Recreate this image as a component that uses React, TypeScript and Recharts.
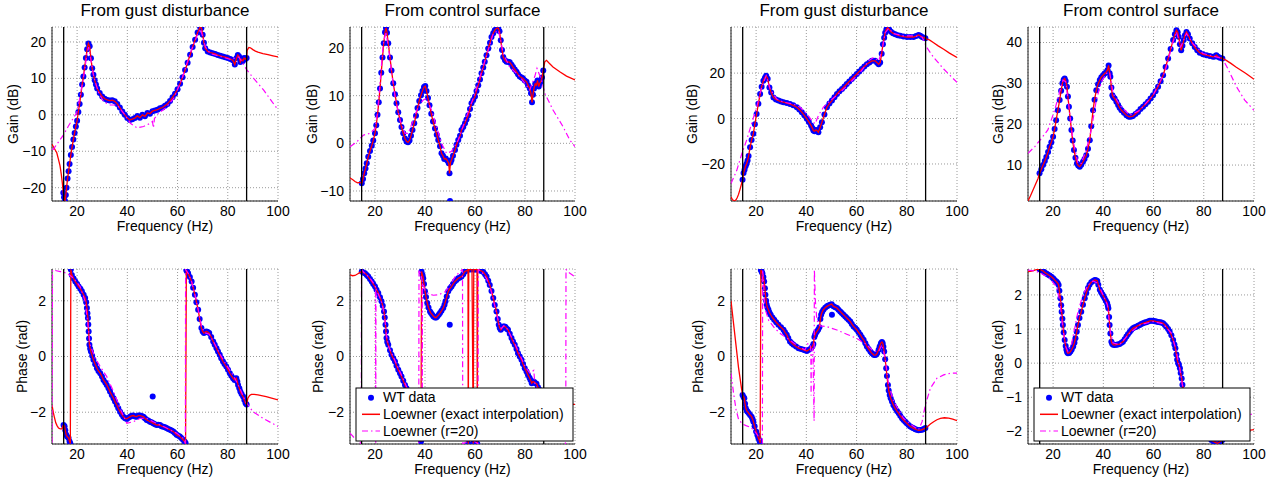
import React from 'react';
import { LineChart, Line, XAxis, YAxis, CartesianGrid, ReferenceLine } from 'recharts';

type Pt = [number, number];

// ---------- shared axis values ----------
const freqTicks = [20, 40, 60, 80, 100];
const bandEdges = [14.65, 87.5];
const legendLabels = ['WT data', 'Loewner (exact interpolation)', 'Loewner (r=20)'];
const titles = ['From gust disturbance', 'From control surface'];
const gainLabel = 'Gain (dB)';
const phaseLabel = 'Phase (rad)';
const freqLabel = 'Frequency (Hz)';

// ---------- Panel 1: gain, gust, left model ----------
const g1Ticks = [-20, -10, 0, 10, 20];
const g1Wt: Pt[] = [[14.5,-21.4],[14.8,-22.6],[15.2,-23.65],[15.5,-22.0],[15.8,-20.0],[16.2,-17.5],[16.6,-15.5],[17.0,-13.5],[17.5,-11.0],[18.0,-8.8],[18.5,-6.8],[19.0,-5.0],[19.5,-3.2],[20.0,-1.6],[20.5,0.8],[21.0,3.0],[21.5,5.5],[22.0,8.3],[22.5,10.5],[23.0,13.0],[23.5,15.6],[24.0,18.0],[24.5,19.6],[25.0,18.8],[25.5,15.5],[26.0,12.8],[26.5,11.0],[27.0,9.5],[27.5,8.3],[28.0,7.2],[29.0,6.0],[30.0,5.0],[31.0,4.4],[32.0,4.1],[33.0,3.9],[34.0,4.0],[35.0,3.7],[36.0,3.0],[37.0,2.0],[38.0,0.9],[39.0,0.0],[40.0,-0.9],[41.0,-1.4],[42.0,-1.2],[43.0,-0.9],[44.0,-0.3],[45.0,-0.8],[46.0,0.0],[47.0,-0.4],[48.0,0.5],[49.0,0.3],[50.0,1.0],[51.0,1.2],[52.0,1.4],[53.0,1.8],[54.0,2.0],[55.0,2.5],[56.0,3.0],[57.0,3.8],[58.0,4.8],[59.0,5.8],[60.0,7.0],[61.0,8.5],[62.0,10.3],[63.0,12.3],[64.0,14.3],[65.0,16.5],[66.0,18.6],[67.0,20.6],[68.0,22.6],[69.0,24.1],[69.5,23.8],[70.0,22.0],[70.5,19.8],[71.0,18.3],[72.0,17.4],[73.0,17.1],[74.0,16.9],[75.0,16.7],[76.0,16.4],[77.0,16.2],[78.0,16.0],[79.0,15.8],[80.0,15.6],[81.0,15.3],[82.0,15.0],[82.8,13.8],[83.5,15.6],[84.0,16.4],[84.5,16.0],[85.0,14.5],[85.5,15.2],[86.0,14.8],[86.5,15.6],[87.0,15.3],[87.5,15.6]];
const g1Out: Pt[] = [];
const g1RedL: Pt[] = [[10,-8.1],[10.5,-8.7],[11,-9.3],[11.9,-10.4],[12.5,-12.0],[13.2,-14.0],[13.7,-16.3],[14.1,-18.6],[14.3,-20.0]];
const g1RedR: Pt[] = [[87.7,17.7],[88.4,18.5],[89,18.4],[90,17.9],[91,17.5],[92,17.2],[94,16.8],[96,16.5],[98,16.2],[100,15.9]];
const g1Mag: Pt[] = [[10,-9.5],[10.5,-9.5],[12,-8.0],[14.6,-5.5],[16.6,-3.0],[18.6,-0.8],[19.8,0.5],[20.6,3.0],[22.6,10.5],[24.0,17.0],[24.6,18.6],[25.5,15.0],[26.6,10.5],[28.6,6.0],[30.6,3.6],[33.2,2.7],[35.9,2.7],[38.5,0.5],[41.2,-2.3],[43.9,-3.6],[46.5,-3.2],[49.2,-2.3],[50.0,-1.8],[50.4,-3.6],[50.8,-1.0],[52.5,0.5],[55.1,1.8],[58.5,4.5],[61.8,10.0],[65,16.8],[67.8,21.8],[69.1,23.6],[70,21.5],[71.1,18.6],[73.1,16.8],[77.1,16.0],[81.1,15.2],[84.4,15.9],[87.6,12.3],[90.3,10.0],[94.3,6.8],[97.6,3.6],[100,1.4]];

// ---------- Panel 2: gain, control surface, left model ----------
const g2Ticks = [-10, 0, 10, 20];
const g2Wt: Pt[] = [[14.7,-8.4],[15.2,-7.5],[15.7,-6.3],[16.2,-5.3],[16.7,-4.2],[17.3,-2.8],[18.0,-1.6],[18.7,-0.5],[19.3,0.6],[20.0,2.1],[20.5,3.8],[21.0,6.0],[21.5,8.6],[22.0,11.5],[22.5,14.8],[23.0,18.0],[23.5,21.0],[24.0,23.3],[24.4,24.2],[24.8,23.2],[25.3,21.0],[26.0,18.0],[26.6,15.3],[27.3,12.6],[28.0,10.3],[28.6,8.4],[29.3,6.5],[30.0,4.9],[30.6,3.4],[31.3,2.1],[32.0,1.0],[32.6,0.4],[33.2,0.2],[33.8,0.6],[34.4,1.6],[35.0,2.8],[35.7,4.2],[36.4,5.8],[37.0,7.4],[37.7,8.9],[38.4,10.1],[39.0,11.0],[39.6,11.8],[40.1,12.0],[40.6,11.0],[41.2,9.5],[41.8,8.0],[42.5,6.2],[43.2,4.6],[44.0,3.1],[44.7,1.8],[45.3,0.7],[46.0,-0.6],[46.6,-2.1],[47.2,-2.6],[47.7,-3.3],[48.3,-3.2],[48.9,-3.6],[49.5,-4.2],[49.8,-6.3],[50.2,-4.0],[50.6,-3.5],[51.2,-2.6],[52.0,-1.4],[52.6,-0.3],[53.3,0.7],[54.0,1.6],[54.6,2.8],[55.3,3.4],[56.0,4.2],[56.6,5.0],[57.3,5.9],[58.0,7.2],[58.6,8.4],[59.3,9.1],[60.0,9.8],[60.6,11.0],[61.3,12.2],[62.0,13.4],[62.6,14.7],[63.3,15.9],[63.9,17.1],[64.6,18.5],[65.3,19.9],[66.0,21.1],[66.6,22.3],[67.3,23.1],[67.9,23.7],[68.6,24.1],[69.3,24.2],[69.8,23.5],[70.3,21.6],[70.8,19.6],[71.3,18.1],[72.0,17.4],[72.6,17.1],[73.3,17.1],[73.9,17.0],[74.6,16.5],[75.2,16.0],[75.9,15.5],[76.6,15.0],[77.2,14.5],[77.9,14.0],[78.6,13.8],[79.2,13.6],[79.9,13.2],[80.6,12.9],[81.2,12.2],[81.9,11.5],[82.4,10.5],[82.8,8.6],[83.2,10.2],[83.6,11.5],[84.1,12.5],[84.6,12.2],[85.0,13.2],[85.5,11.9],[85.9,12.6],[86.3,12.9],[86.8,13.8],[87.3,15.3]];
const g2Out: Pt[] = [[50.0,-12.1]];
const g2RedL: Pt[] = [[10,-7.3],[11,-7.6],[12,-8.0],[13,-8.3],[14,-8.2]];
const g2RedR: Pt[] = [[87.9,17.1],[88.6,17.4],[89.5,16.9],[91.2,16.0],[93.9,15.0],[96.6,14.1],[100,13.3]];
const g2Mag: Pt[] = [[10,-0.7],[12.7,0.3],[15.3,1.7],[18,2.1],[20,3.1],[21,6.5],[22,12.6],[23.3,20.9],[24.4,23.4],[25.7,18.8],[27,13.5],[28,9.8],[30,4.9],[32,2.1],[33.3,2.1],[35.3,4.9],[37.3,7.7],[39.3,9.1],[40.6,9.4],[42.6,7.0],[44.6,3.5],[46.6,0.0],[48.6,-2.1],[50.6,-1.7],[53.3,0.7],[56.6,5.6],[60,10.5],[64,17.4],[67.3,23.0],[69.3,23.7],[70.3,21.5],[71.3,18.8],[73.9,16.0],[77.9,14.0],[81.9,11.2],[83.9,14.0],[84.8,15.7],[86.6,13.3],[87.9,10.5],[91.2,7.0],[95.2,3.5],[97.9,0.7],[100,-0.7]];

// ---------- Panel 3: gain, gust, right model ----------
const g3Ticks = [-20, 0, 20];
const g3Wt: Pt[] = [[14.6,-27.0],[15.0,-24.0],[15.4,-22.5],[15.8,-21.0],[16.2,-19.9],[16.6,-18.5],[17.0,-16.5],[17.6,-12.6],[18.2,-9.5],[18.9,-6.7],[19.5,-2.5],[20.2,2.0],[20.9,6.5],[21.6,10.8],[22.2,14.0],[22.9,16.6],[23.5,18.0],[24.0,18.8],[24.6,17.5],[25.3,13.7],[26.0,11.5],[26.9,9.3],[27.9,8.4],[28.9,7.9],[29.9,7.5],[30.9,7.2],[32.2,6.8],[33.5,6.4],[34.8,5.8],[36.2,5.0],[37.2,4.0],[38.2,2.8],[39.2,1.4],[40.2,-0.1],[41.0,-1.5],[41.9,-3.1],[42.4,-4.2],[42.8,-5.3],[43.3,-5.6],[43.8,-5.0],[44.2,-5.3],[44.8,-6.0],[45.5,-3.8],[46.2,-1.6],[47.2,1.8],[48.2,5.0],[49.2,6.6],[50.2,7.9],[51.2,9.4],[52.2,10.8],[53.2,12.0],[54.2,13.0],[55.2,14.1],[56.1,15.2],[57.1,16.3],[58.1,17.4],[59.1,18.5],[60.1,19.6],[61.1,20.7],[62.1,21.8],[63.1,22.9],[64.1,23.9],[65.1,24.7],[66.1,25.4],[67.4,25.4],[68.2,24.6],[68.8,23.9],[69.4,24.7],[70.0,28.5],[70.5,32.7],[71.0,35.6],[71.4,37.8],[71.9,39.3],[72.4,40.0],[73.0,39.2],[73.7,38.2],[74.5,37.6],[75.4,37.1],[76.4,36.7],[77.4,36.4],[78.7,36.1],[80.1,35.9],[81.4,35.9],[82.7,35.9],[83.7,36.3],[84.7,36.8],[85.4,36.4],[86.1,35.9],[86.8,35.6],[87.4,35.3]];
const g3Out: Pt[] = [];
const g3RedL: Pt[] = [[10,-34.5],[10.5,-35.6],[11,-36.1],[11.5,-36.2],[12,-35.8],[12.5,-34.8],[13,-33.4],[13.5,-31.5],[14,-29.5],[14.3,-28.2]];
const g3RedR: Pt[] = [[88,35.0],[89,34.6],[90.7,33.4],[92.5,32.0],[94.7,30.5],[97,28.8],[100,26.9]];
const g3Mag: Pt[] = [[10,-28.6],[12.3,-22.8],[14.3,-15.5],[16.2,-9.6],[18.2,-2.3],[20.2,5.0],[22.2,13.7],[24.0,18.8],[25.6,13.0],[28.2,8.6],[30.9,7.2],[34.9,6.4],[37.5,5.0],[40.2,2.0],[42.2,-0.9],[43.5,-2.3],[44.8,1.3],[46.8,5.0],[49.5,7.9],[53.5,11.5],[57.5,15.9],[61.5,20.3],[64.8,25.4],[66.8,26.9],[68.8,25.4],[70.1,29.8],[71.4,37.8],[72.8,39.7],[74.8,37.4],[78.7,36.4],[82.7,36.4],[86.1,35.9],[88,31.2],[90.7,26.9],[94.7,21.8],[100,15.9]];

// ---------- Panel 4: gain, control surface, right model ----------
const g4Ticks = [10, 20, 30, 40];
const g4Wt: Pt[] = [[14.6,8.0],[15.3,9.0],[16.0,10.0],[16.7,11.0],[17.3,12.0],[18.0,13.2],[18.6,14.5],[19.3,15.6],[20.0,16.9],[20.6,18.8],[21.2,21.0],[21.9,23.4],[22.6,25.9],[23.2,28.2],[23.7,30.0],[24.2,30.9],[24.6,31.2],[25.0,30.6],[25.5,29.2],[25.9,26.8],[26.3,24.3],[26.8,21.4],[27.3,18.6],[27.8,16.0],[28.3,13.7],[28.9,11.8],[29.5,10.4],[30.0,9.9],[30.6,9.6],[31.2,10.1],[31.9,10.8],[32.5,11.5],[33.2,12.4],[33.9,14.0],[34.6,16.1],[35.2,19.5],[35.9,23.4],[36.5,26.0],[37.2,28.3],[37.9,29.8],[38.6,30.8],[39.2,31.5],[39.9,32.0],[40.5,32.4],[41.2,32.8],[41.7,33.3],[42.1,34.4],[42.5,32.5],[42.8,31.6],[43.2,29.0],[43.6,27.1],[44.0,26.6],[44.5,26.3],[45.2,25.5],[45.9,24.7],[46.5,24.0],[47.2,23.4],[48.2,22.8],[49.2,22.2],[50.0,21.9],[50.5,21.8],[51.2,21.9],[51.8,22.0],[52.8,22.5],[53.8,23.0],[54.8,23.7],[55.8,24.3],[56.8,24.9],[57.8,25.5],[58.8,26.3],[59.8,27.1],[60.8,28.1],[61.8,29.2],[62.8,30.5],[63.8,32.0],[64.8,34.0],[65.8,36.1],[66.8,38.4],[67.8,40.6],[68.5,42.0],[69.1,43.0],[69.6,42.5],[70.0,41.4],[70.5,39.6],[71.0,38.1],[71.5,39.2],[72.0,40.6],[72.5,41.8],[73.1,42.6],[73.7,42.0],[74.4,41.0],[75.4,39.8],[76.4,38.9],[77.4,38.1],[78.4,37.5],[79.7,37.1],[81.1,36.9],[82.4,36.7],[83.7,36.5],[84.4,36.6],[85.0,36.9],[85.7,36.5],[86.4,36.3],[87.4,36.1]];
const g4Out: Pt[] = [];
const g4RedL: Pt[] = [[10,1.2],[11,2.5],[12,3.9],[13,5.3],[14,6.7]];
const g4RedR: Pt[] = [[88.8,35.7],[90.8,34.9],[92.8,34.0],[94.8,33.2],[96.8,32.4],[100,31.0]];
const g4Mag: Pt[] = [[10,12.9],[12.7,14.5],[15.3,16.5],[17.9,18.6],[20.6,23.4],[22.6,27.9],[23.9,30.8],[25.0,30.4],[26.3,24.3],[27.9,16.1],[29.9,10.4],[31.2,10.4],[33.2,13.7],[35.2,18.6],[37.2,25.9],[39.2,30.4],[41.2,32.4],[42.5,32.8],[43.9,27.5],[46.5,24.7],[50.5,22.2],[54.5,23.4],[59.8,27.1],[64.5,32.8],[67.8,40.2],[69.1,42.6],[70.8,38.9],[73.1,42.2],[75.7,39.7],[79.7,37.3],[83.7,36.7],[87.4,36.1],[89.6,33.6],[93,29.2],[96.3,25.9],[100,23.4]];

// ---------- Panel 5: phase, gust, left model ----------
const p5Ticks = [-2, 0, 2];
const p5Wt: Pt[] = [[14.6,-2.46],[15.0,-2.5],[15.3,-2.65],[15.6,-2.8],[16.0,-2.87],[16.6,-2.93],[17.0,-3.05],[17.3,-3.12],[17.5,3.12],[17.9,2.93],[18.6,2.8],[19.3,2.69],[20.0,2.6],[20.6,2.51],[21.3,2.43],[21.9,2.34],[22.6,2.22],[23.2,2.1],[23.6,1.95],[23.9,1.74],[24.1,1.55],[24.3,1.38],[24.45,1.15],[24.6,0.9],[24.75,0.65],[24.9,0.42],[25.2,0.28],[25.5,0.18],[26.0,0.03],[26.5,-0.12],[27.2,-0.28],[27.9,-0.42],[28.5,-0.52],[29.2,-0.6],[29.9,-0.72],[30.5,-0.84],[31.2,-0.93],[31.8,-1.02],[32.5,-1.14],[33.1,-1.26],[33.8,-1.38],[34.5,-1.5],[35.1,-1.62],[35.8,-1.74],[36.4,-1.86],[37.1,-1.98],[37.8,-2.08],[38.4,-2.16],[39.1,-2.22],[39.8,-2.24],[40.4,-2.2],[41.1,-2.16],[41.7,-2.13],[42.4,-2.12],[43.1,-2.15],[43.7,-2.16],[44.4,-2.12],[45.1,-2.12],[45.7,-2.14],[46.4,-2.16],[47.0,-2.22],[47.7,-2.28],[48.3,-2.3],[49.0,-2.34],[49.6,-2.36],[50.3,-2.4],[51.0,-2.43],[51.7,-2.46],[52.3,-2.45],[53.0,-2.46],[53.6,-2.5],[54.3,-2.52],[55.0,-2.54],[55.6,-2.57],[56.3,-2.6],[57.0,-2.63],[57.6,-2.66],[58.3,-2.69],[58.9,-2.75],[59.6,-2.81],[60.2,-2.84],[60.9,-2.87],[61.5,-2.93],[62.2,-2.99],[62.8,-3.05],[63.2,-3.11],[63.5,3.1],[63.8,3.05],[64.2,2.99],[64.9,2.85],[65.6,2.69],[66.2,2.47],[66.9,2.22],[67.5,1.95],[68.2,1.68],[68.8,1.35],[69.5,1.02],[70.0,0.9],[70.5,0.84],[71.0,0.88],[71.5,0.9],[72.0,0.88],[72.6,0.84],[73.4,0.7],[74.2,0.54],[74.8,0.42],[75.5,0.3],[76.1,0.18],[76.8,0.06],[77.4,-0.06],[78.1,-0.18],[78.7,-0.27],[79.4,-0.36],[80.1,-0.48],[80.8,-0.6],[81.4,-0.69],[82.1,-0.78],[82.7,-0.84],[83.1,-0.8],[83.4,-0.78],[83.8,-0.9],[84.1,-1.02],[84.6,-1.14],[85.0,-1.26],[85.5,-1.35],[86.1,-1.44],[86.6,-1.56],[87.1,-1.68],[87.5,-1.72]];
const p5Out: Pt[] = [[50.1,-1.44]];
const p5RedL: Pt[] = [[10,-1.74],[10.5,-2.0],[11,-2.2],[11.5,-2.38],[12,-2.48],[12.6,-2.57],[13.3,-2.6],[14,-2.6],[14.3,-2.5]];
const p5RedR: Pt[] = [[88,-1.5],[88.7,-1.4],[89.4,-1.36],[90.5,-1.36],[92,-1.38],[95.3,-1.44],[100,-1.56]];
const p5Mag: Pt[] = [[10,-3.1],[10.2,3.1],[10.7,3.1],[13.3,3.05],[16,2.99],[18.6,2.81],[21.2,2.51],[23.2,1.98],[24.3,1.14],[25.2,0.42],[27.2,-0.06],[29.2,-0.36],[31.8,-0.72],[34.5,-1.26],[37.1,-1.86],[39.8,-2.4],[42.4,-2.34],[45.1,-2.22],[47.7,-2.22],[50.3,-2.34],[53,-2.46],[55.6,-2.57],[59.6,-2.75],[62.2,-2.93],[63.1,-3.12],[63.2,3.12],[64.2,2.99],[65.6,2.69],[67,2.2],[68.3,1.65],[69.6,1.05],[71,0.85],[72.6,0.8],[74.5,0.5],[76.8,0.1],[79.4,-0.3],[82.1,-0.66],[84.8,-1.14],[87.1,-1.62],[90,-1.98],[94,-2.22],[100,-2.51]];

// ---------- Panel 6: phase, control surface, left model ----------
const p6Ticks = [-2, 0, 2];
const p6Wt: Pt[] = [[14.7,3.05],[15.3,3.02],[16.0,2.99],[16.7,2.93],[17.3,2.87],[18.0,2.78],[18.7,2.69],[19.3,2.6],[20.0,2.51],[20.6,2.4],[21.3,2.28],[22.0,2.13],[22.6,1.98],[23.1,1.82],[23.6,1.62],[23.9,1.4],[24.2,1.14],[24.4,0.9],[24.6,0.66],[24.9,0.52],[25.3,0.42],[26.0,0.22],[26.6,0.06],[27.3,-0.06],[28.0,-0.18],[28.6,-0.33],[29.3,-0.48],[30.0,-0.6],[30.6,-0.72],[31.3,-0.87],[32.0,-1.02],[32.6,-1.14],[33.3,-1.26],[34.0,-1.44],[34.6,-1.62],[35.3,-1.86],[36.0,-2.1],[36.6,-2.33],[37.3,-2.57],[37.9,-2.82],[38.4,-3.05],[38.6,3.05],[39.0,2.93],[39.3,2.81],[39.6,2.6],[40.0,2.34],[40.4,2.14],[40.9,1.92],[41.4,1.76],[42.0,1.62],[42.4,1.56],[42.9,1.5],[43.4,1.44],[44.0,1.4],[44.5,1.4],[44.9,1.44],[45.5,1.5],[46.0,1.56],[46.6,1.64],[47.3,1.74],[47.8,1.86],[48.2,1.98],[48.7,2.15],[49.3,2.34],[50.0,2.45],[50.6,2.51],[51.2,2.6],[51.9,2.69],[52.6,2.75],[53.3,2.81],[54.0,2.84],[54.6,2.87],[55.3,2.95],[55.9,3.05],[56.6,3.08],[57.2,3.12],[57.3,-3.13],[57.5,3.13],[58.2,3.12],[58.8,3.13],[59.3,-3.12],[59.5,3.12],[60.2,3.12],[60.8,3.13],[60.9,-3.13],[61.1,3.12],[61.5,3.11],[62.0,3.09],[62.6,3.07],[63.3,3.03],[64.0,2.95],[64.6,2.87],[65.3,2.72],[65.9,2.57],[66.6,2.35],[67.3,2.1],[67.9,1.85],[68.6,1.62],[69.1,1.35],[69.5,1.14],[69.9,1.02],[70.3,0.96],[70.8,1.02],[71.3,1.08],[71.8,1.08],[72.2,1.06],[72.7,1.0],[73.2,0.96],[73.9,0.82],[74.6,0.66],[75.2,0.54],[75.9,0.42],[76.6,0.27],[77.2,0.12],[77.9,0.0],[78.6,-0.12],[79.2,-0.27],[79.9,-0.42],[80.6,-0.54],[81.2,-0.66],[81.8,-0.76],[82.2,-0.84],[82.7,-0.96],[83.2,-0.9],[83.7,-0.92],[84.2,-0.96],[84.6,-0.98],[85.2,-1.1],[85.9,-1.2],[86.6,-1.32],[87.3,-1.45]];
const p6Out: Pt[] = [[49.9,1.14]];
const p6RedL: Pt[] = [[10,2.93],[11,2.9],[12,2.91],[13,2.96],[14,3.02]];
const p6RedR: Pt[] = [[88,-1.48],[90,-1.6],[93,-1.66],[96,-1.7],[100,-1.72]];
const p6Mag: Pt[] = [[10,-2.75],[11.5,-2.9],[13,-3.02],[14.5,-3.13],[14.6,3.13],[15.5,3.02],[17,2.9],[18.5,2.75],[19.5,2.62],[20.2,2.5],[20.3,-3.1],[20.4,2.42],[21,2.3],[22,2.1],[23,1.85],[24,1.3],[24.6,0.75],[25.5,0.35],[27,0.05],[28.5,-0.25],[30,-0.55],[32,-0.95],[34,-1.4],[35.5,-1.9],[36.5,-2.3],[37.2,-2.75],[37.5,-3.12],[37.6,3.12],[38.3,2.95],[38.8,2.75],[38.9,-3.0],[39.0,2.65],[40,2.38],[41.5,2.25],[43.3,2.2],[45.5,2.22],[48,2.32],[50,2.55],[52,2.86],[54,3.05],[55.0,3.13],[55.1,-3.13],[57,-3.05],[59,-3.0],[61.2,-3.13],[61.3,3.13],[62,3.08],[63,3.0],[64.6,2.8],[66,2.5],[67.3,2.05],[68.6,1.55],[69.8,1.1],[70.5,1.0],[71.5,1.1],[72.5,1.05],[74,0.8],[76,0.45],[78,0.05],[80,-0.35],[82,-0.6],[83.5,-0.5],[84,-1.0],[86,-1.3],[88,-1.6],[90,-2.0],[92,-2.4],[94,-2.8],[96.3,-3.13],[96.4,3.13],[97.2,3.04],[100,2.86]];

// ---------- Panel 7: phase, gust, right model ----------
const p7Ticks = [-2, 0, 2];
const p7Wt: Pt[] = [[14.6,-1.38],[15.0,-1.45],[15.3,-1.5],[15.6,-1.7],[15.9,-1.86],[16.3,-1.95],[16.6,-1.98],[17.1,-2.04],[17.6,-2.1],[18.2,-2.16],[18.6,-2.25],[18.9,-2.34],[19.4,-2.5],[20.0,-2.69],[20.5,-2.82],[20.9,-2.93],[21.3,-3.02],[21.6,-3.11],[21.9,3.11],[22.2,3.05],[22.5,2.99],[22.9,2.85],[23.2,2.69],[23.5,2.45],[23.7,2.22],[24.0,2.0],[24.2,1.86],[24.5,1.76],[24.9,1.68],[25.3,1.58],[25.8,1.5],[26.5,1.4],[27.2,1.32],[28.0,1.23],[28.9,1.14],[29.9,1.05],[30.9,0.96],[31.5,0.87],[32.2,0.78],[32.8,0.66],[33.5,0.54],[34.2,0.48],[34.9,0.42],[35.9,0.36],[36.9,0.3],[37.9,0.27],[38.9,0.24],[39.5,0.22],[40.2,0.2],[41.0,0.24],[41.9,0.3],[42.4,0.36],[42.8,0.45],[43.2,0.7],[43.5,0.78],[43.8,0.85],[44.2,0.9],[44.7,0.96],[45.2,1.05],[45.6,1.35],[45.9,1.5],[46.3,1.6],[46.8,1.68],[47.5,1.75],[48.2,1.8],[48.8,1.83],[49.5,1.86],[50.1,1.88],[50.8,1.8],[51.5,1.77],[52.2,1.74],[52.8,1.68],[53.5,1.62],[54.1,1.56],[54.8,1.5],[55.5,1.44],[56.1,1.38],[56.8,1.32],[57.5,1.26],[58.1,1.17],[58.8,1.08],[59.5,1.02],[60.1,0.96],[60.8,0.87],[61.5,0.78],[62.1,0.69],[62.8,0.6],[63.5,0.48],[64.1,0.36],[64.8,0.27],[65.5,0.18],[66.1,0.12],[66.8,0.06],[67.3,0.05],[67.7,0.06],[68.2,0.12],[68.8,0.24],[69.2,0.36],[69.7,0.48],[70.1,0.52],[70.4,0.48],[70.7,0.35],[71.0,0.18],[71.4,-0.1],[71.8,-0.42],[72.1,-0.7],[72.5,-1.02],[72.8,-1.22],[73.2,-1.38],[73.6,-1.5],[74.1,-1.62],[74.7,-1.75],[75.4,-1.86],[76.1,-1.96],[76.8,-2.04],[77.4,-2.13],[78.1,-2.22],[78.7,-2.28],[79.4,-2.34],[80.0,-2.4],[80.7,-2.46],[81.4,-2.51],[82.1,-2.55],[82.7,-2.58],[83.4,-2.61],[84.0,-2.63],[84.7,-2.65],[85.4,-2.64],[86.1,-2.63],[86.7,-2.6],[87.4,-2.57]];
const p7Out: Pt[] = [[50.2,1.5]];
const p7RedL: Pt[] = [[10,2.0],[11,1.2],[12,0.4],[13,-0.4],[14.4,-1.28]];
const p7RedR: Pt[] = [[88.2,-2.52],[89.4,-2.42],[90.7,-2.34],[92,-2.27],[93.4,-2.22],[95,-2.2],[96.7,-2.21],[98.3,-2.25],[100,-2.3]];
const p7Mag: Pt[] = [[10,-0.6],[11,-1.3],[12,-1.9],[13,-2.25],[14.5,-2.42],[16,-2.48],[18,-2.55],[20,-2.75],[21.5,-2.95],[22.5,-3.12],[22.6,3.12],[23.0,2.6],[23.5,1.73],[25,1.3],[27.5,1.0],[30,0.8],[34.2,0.54],[37,0.35],[39.5,0.24],[40.5,0.45],[41.5,0.45],[41.8,0.2],[41.9,-1.4],[42.0,0.0],[42.6,0.3],[43.1,-2.32],[43.2,3.12],[43.6,2.0],[44.2,1.3],[45.5,1.1],[48.2,1.07],[52.2,0.95],[56.1,0.8],[60.1,0.65],[64.1,0.42],[66.8,0.18],[68.8,0.18],[70.1,0.42],[71.4,-0.06],[72.8,-1.02],[74.8,-1.62],[78.7,-2.22],[82.7,-2.51],[84.7,-2.63],[86.1,-2.34],[87.4,-1.74],[89.4,-1.14],[92,-0.78],[94.7,-0.66],[97.4,-0.6],[100,-0.6]];

// ---------- Panel 8: phase, control surface, right model ----------
const p8Ticks = [-2, -1, 0, 1, 2];
const p8Wt: Pt[] = [[14.6,2.75],[15.3,2.73],[16.0,2.7],[16.6,2.66],[17.3,2.63],[17.9,2.6],[18.6,2.57],[19.3,2.53],[20.0,2.49],[20.6,2.44],[21.3,2.39],[21.8,2.35],[22.2,2.29],[22.5,2.12],[22.9,1.9],[23.2,1.7],[23.4,1.51],[23.7,1.3],[23.9,1.12],[24.2,0.9],[24.6,0.68],[25.0,0.5],[25.3,0.39],[25.6,0.32],[25.9,0.29],[26.4,0.3],[26.9,0.34],[27.4,0.4],[28.0,0.49],[28.5,0.6],[28.9,0.73],[29.4,0.92],[29.9,1.12],[30.5,1.32],[31.2,1.51],[31.9,1.71],[32.6,1.9],[33.2,2.06],[33.9,2.2],[34.5,2.3],[35.2,2.37],[35.9,2.41],[36.6,2.44],[37.1,2.43],[37.6,2.41],[38.0,2.3],[38.6,2.15],[39.1,2.08],[39.6,2.02],[40.0,1.97],[40.5,1.9],[41.0,1.83],[41.5,1.76],[41.8,1.68],[42.0,1.61],[42.3,1.35],[42.5,1.12],[42.8,0.87],[43.2,0.63],[43.5,0.57],[43.9,0.54],[44.5,0.53],[45.2,0.54],[45.8,0.55],[46.5,0.56],[47.2,0.6],[47.8,0.63],[48.5,0.7],[49.2,0.78],[49.8,0.85],[50.5,0.91],[51.1,0.97],[51.8,1.02],[52.5,1.05],[53.2,1.07],[53.8,1.1],[54.5,1.12],[55.1,1.15],[55.8,1.17],[56.5,1.19],[57.1,1.2],[57.8,1.22],[58.5,1.24],[59.1,1.24],[59.8,1.24],[60.5,1.23],[61.1,1.22],[61.8,1.21],[62.5,1.2],[63.1,1.19],[63.8,1.17],[64.5,1.12],[65.1,1.07],[65.8,1.0],[66.4,0.93],[67.1,0.82],[67.8,0.68],[68.3,0.55],[68.7,0.44],[69.1,0.25],[69.4,0.1],[69.8,0.0],[70.1,-0.05],[70.5,-0.15],[70.8,-0.29],[71.2,-0.45],[71.5,-0.63],[72.0,-0.83],[72.5,-1.1],[73.5,-1.4],[75.0,-1.7],[77.0,-1.9],[79.0,-2.05],[81.0,-2.15],[83.0,-2.25],[84.0,-2.3],[84.8,-2.33],[85.5,-2.35],[86.2,-2.32],[86.8,-2.28],[87.4,-2.25]];
const p8Out: Pt[] = [];
const p8RedL: Pt[] = [[10,2.68],[11.5,2.7],[12.7,2.73],[13.8,2.75]];
const p8RedR: Pt[] = [[88,-2.22],[90,-2.15],[92,-2.1],[94,-2.05],[96,-2.0],[98,-1.97],[100,-1.95]];
const p8Mag: Pt[] = [[10,2.73],[12.7,2.7],[15.3,2.63],[18.6,2.49],[21.3,2.24],[22.6,1.85],[23.9,1.02],[25,0.49],[25.9,0.34],[27.3,0.54],[28.6,1.02],[29.9,1.51],[31.9,2.0],[33.9,2.29],[35.9,2.41],[37.9,2.34],[39.9,2.0],[41.6,1.71],[42.8,0.93],[43.9,0.59],[46.5,0.54],[50.5,0.88],[54.5,1.12],[59.8,1.22],[63.8,1.15],[67.1,0.88],[69.1,0.34],[70.4,-0.15],[71.7,-0.73],[73,-1.1],[76,-1.6],[80,-2.0],[84,-2.25],[86,-2.3],[88,-2.1],[92,-1.8],[96,-1.6],[100,-1.46]];

// ---------- layout ----------
const FONT = "'Liberation Sans', Arial, Helvetica, sans-serif";
const BLUE = '#0000ff';
const RED = '#ff0000';
const MAGENTA = '#ff00ff';
const DASHDOT = '6 3 1.5 3';

interface Spec {
  L: number; T: number; W: number; H: number;
  yDomain: [number, number]; yTicks: number[];
  wt: Pt[]; out: Pt[]; redL: Pt[]; redR: Pt[]; mag: Pt[];
  title?: string; yLabel: string; yLabelX: number;
}

const PI = 3.14159;
const specs: Spec[] = [
  { L: 52, T: 27, W: 226, H: 174, yDomain: [-23.65, 24.1], yTicks: g1Ticks, wt: g1Wt, out: g1Out, redL: g1RedL, redR: g1RedR, mag: g1Mag, title: titles[0], yLabel: gainLabel, yLabelX: 18 },
  { L: 350, T: 27, W: 225, H: 174, yDomain: [-12.1, 24.4], yTicks: g2Ticks, wt: g2Wt, out: g2Out, redL: g2RedL, redR: g2RedR, mag: g2Mag, title: titles[1], yLabel: gainLabel, yLabelX: 316.5 },
  { L: 731, T: 27, W: 226, H: 174, yDomain: [-36.3, 40.3], yTicks: g3Ticks, wt: g3Wt, out: g3Out, redL: g3RedL, redR: g3RedR, mag: g3Mag, title: titles[0], yLabel: gainLabel, yLabelX: 697 },
  { L: 1028, T: 27, W: 226, H: 174, yDomain: [1.2, 43.8], yTicks: g4Ticks, wt: g4Wt, out: g4Out, redL: g4RedL, redR: g4RedR, mag: g4Mag, title: titles[1], yLabel: gainLabel, yLabelX: 1003.3 },
  { L: 52, T: 269, W: 226, H: 175, yDomain: [-PI, PI], yTicks: p5Ticks, wt: p5Wt, out: p5Out, redL: p5RedL, redR: p5RedR, mag: p5Mag, yLabel: phaseLabel, yLabelX: 26.5 },
  { L: 350, T: 269, W: 225, H: 175, yDomain: [-PI, PI], yTicks: p6Ticks, wt: p6Wt, out: p6Out, redL: p6RedL, redR: p6RedR, mag: p6Mag, yLabel: phaseLabel, yLabelX: 323.3 },
  { L: 731, T: 269, W: 226, H: 175, yDomain: [-PI, PI], yTicks: p7Ticks, wt: p7Wt, out: p7Out, redL: p7RedL, redR: p7RedR, mag: p7Mag, yLabel: phaseLabel, yLabelX: 703.3 },
  { L: 1028, T: 269, W: 226, H: 175, yDomain: [-2.37, 2.76], yTicks: p8Ticks, wt: p8Wt, out: p8Out, redL: p8RedL, redR: p8RedR, mag: p8Mag, yLabel: phaseLabel, yLabelX: 1003.3 },
];

const toRows = (pts: Pt[]) => pts.map(([f, v]) => ({ f, v }));
const fmt = (v: number) => (v < 0 ? '\u2212' + Math.abs(v) : String(v));
const tickStyle = { fontSize: 14, fill: '#000', fontFamily: FONT };
const MARGIN = { top: 10, right: 20, bottom: 0, left: 0 };

function Axes({ s, visible }: { s: Spec; visible: boolean }) {
  return [
    <XAxis key="x" type="number" dataKey="f" domain={[10, 100]} ticks={freqTicks} allowDataOverflow interval={0}
      height={30} tickSize={0} tickMargin={5} tickLine={false} tick={visible ? tickStyle : false}
      axisLine={visible ? { stroke: '#1a1a1a' } : false} />,
    <YAxis key="y" type="number" domain={s.yDomain} ticks={s.yTicks} allowDataOverflow interval={0}
      width={50} tickSize={0} tickMargin={6} tickLine={false} tick={visible ? tickStyle : false} tickFormatter={fmt}
      axisLine={visible ? { stroke: '#1a1a1a' } : false} />,
  ];
}

function Panel({ s }: { s: Spec }) {
  const wtRows = toRows([...s.wt, ...s.out]);
  const redRows = toRows([...s.redL, ...s.wt, ...s.redR]);
  const magRows = toRows(s.mag);
  const w = s.W + 70;
  const h = s.H + 40;
  const pos: React.CSSProperties = { position: 'absolute', left: s.L - 50, top: s.T - 10 };
  return (
    <>
      <div style={pos}>
        <LineChart width={w} height={h} margin={MARGIN}>
          <CartesianGrid stroke="#9a9a9a" strokeDasharray="1 2" />
          {Axes({ s, visible: true })}
          <Line data={wtRows} dataKey="v" stroke="none" isAnimationActive={false}
            dot={{ r: 3, fill: BLUE, stroke: 'none' }} activeDot={false} />
        </LineChart>
      </div>
      <div style={pos}>
        <LineChart width={w} height={h} margin={MARGIN}>
          {Axes({ s, visible: false })}
          <Line data={redRows} dataKey="v" stroke={RED} strokeWidth={1.3} dot={false} activeDot={false}
            isAnimationActive={false} type="linear" />
          <Line data={magRows} dataKey="v" stroke={MAGENTA} strokeWidth={1.2} strokeDasharray={DASHDOT}
            dot={false} activeDot={false} isAnimationActive={false} type="linear" />
          {bandEdges.map((x) => (
            <ReferenceLine key={x} x={x} stroke="#000" strokeWidth={1.3} />
          ))}
        </LineChart>
      </div>
    </>
  );
}

function LegendBox({ x, y, w }: { x: number; y: number; w: number }) {
  const rowsText = [14.3, 31, 47.7];
  const rowsMark = [9.7, 26.3, 43];
  return (
    <g transform={`translate(${x},${y})`} fontFamily={FONT} fontSize={14} fill="#000">
      <rect x={0} y={0} width={w} height={53} fill="#fff" stroke="#000" strokeWidth={1} />
      <circle cx={15} cy={rowsMark[0]} r={3} fill={BLUE} />
      <line x1={6} x2={24} y1={rowsMark[1]} y2={rowsMark[1]} stroke={RED} strokeWidth={1.5} />
      <line x1={6} x2={24} y1={rowsMark[2]} y2={rowsMark[2]} stroke={MAGENTA} strokeWidth={1.2} strokeDasharray={DASHDOT} />
      {legendLabels.map((t, i) => (
        <text key={t} x={27} y={rowsText[i]}>{t}</text>
      ))}
    </g>
  );
}

export default function App() {
  return (
    <div style={{ position: 'absolute', left: 0, top: 0, width: 1279, height: 485, background: '#fff', overflow: 'hidden' }}>
      {specs.map((s, i) => <Panel key={i} s={s} />)}
      <svg width={1279} height={485} style={{ position: 'absolute', left: 0, top: 0, pointerEvents: 'none' }}>
        <g fontFamily={FONT} fill="#000">
          {specs.map((s, i) => (
            <g key={i}>
              {s.title && (
                <text x={s.L + s.W / 2} y={15.7} fontSize={17} textAnchor="middle">{s.title}</text>
              )}
              <text x={s.L + s.W / 2} y={s.T + s.H + 30} fontSize={14} textAnchor="middle">{freqLabel}</text>
              <text x={s.yLabelX} y={s.T + s.H / 2} fontSize={14} textAnchor="middle"
                transform={`rotate(-90 ${s.yLabelX} ${s.T + s.H / 2})`}>{s.yLabel}</text>
            </g>
          ))}
        </g>
        <LegendBox x={356} y={388} w={217} />
        <LegendBox x={1034} y={388} w={216} />
      </svg>
    </div>
  );
}
